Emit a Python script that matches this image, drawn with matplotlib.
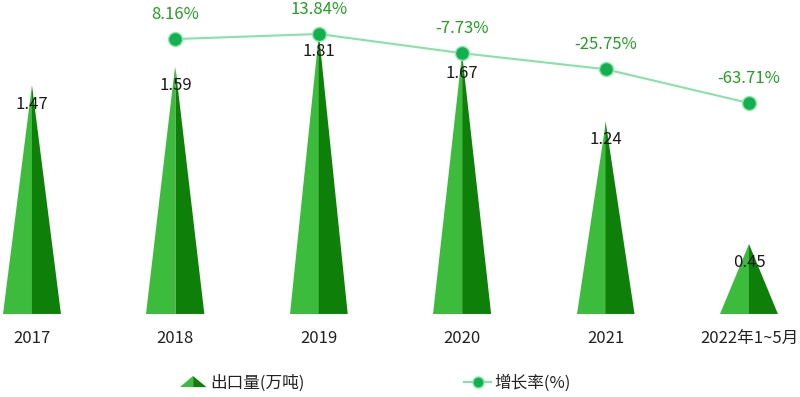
import matplotlib.pyplot as plt
import numpy as np
from matplotlib.patches import Polygon, Patch
from matplotlib.lines import Line2D

plt.rcParams['font.family'] = ['Noto Sans CJK SC', 'DejaVu Sans']

years = ['2017', '2018', '2019', '2020', '2021', '2022年1~5月']
export = [1.47, 1.59, 1.81, 1.67, 1.24, 0.45]
growth_years = [1, 2, 3, 4, 5]
growth = [8.16, 13.84, -7.73, -25.75, -63.71]

light = '#3dbb3d'
dark = '#0e8009'


class TriHandler:
    # two-tone triangle for the legend
    def legend_artist(self, legend, orig_handle, fontsize, handlebox):
        x0, y0 = handlebox.xdescent, handlebox.ydescent
        w, h = handlebox.width, handlebox.height
        cx = x0 + w / 2
        top = y0 + h * 1.0
        bot = y0 + h * 0.05
        p1 = Polygon([(x0, bot), (cx, bot), (cx, top)], fc=light, ec='none',
                     transform=handlebox.get_transform())
        p2 = Polygon([(cx, bot), (x0 + w, bot), (cx, top)], fc=dark, ec='none',
                     transform=handlebox.get_transform())
        handlebox.add_artist(p1)
        handlebox.add_artist(p2)
        return p1


fig = plt.figure(figsize=(8, 3.97), dpi=100)
ax = fig.add_axes([0, 0, 1, 1])
ax.set_xlim(-0.223, 5.356)
ax.set_ylim(-0.534, 2.019)
ax.axis('off')

hw = 0.202
for i, v in enumerate(export):
    ax.add_patch(Polygon([(i - hw, 0), (i, 0), (i, v)], closed=True, fc=light, ec='none'))
    ax.add_patch(Polygon([(i, 0), (i + hw, 0), (i, v)], closed=True, fc=dark, ec='none'))
    ax.annotate(f'{v:.2f}', (i, v), xytext=(0, -13.5), textcoords='offset points',
                ha='center', va='center', fontsize=12, color='#1a1a1a')
    ax.annotate(years[i], (i, 0), xytext=(0, -17.5), textcoords='offset points',
                ha='center', va='center', fontsize=12, color='#222222')

ax2 = ax.twinx()
ax2.set_position([0, 0, 1, 1])
ax2.set_ylim(-394.0, 52.04)
ax2.axis('off')
ax2.plot(growth_years, growth, color='#86e3a6', lw=1.5, zorder=2)
ax2.plot(growth_years, growth, 'o', ms=10, color='#12b04e', mec='#8fe6ad', mew=1, zorder=3)
for x, g in zip(growth_years, growth):
    ax2.annotate(f'{g:.2f}%', (x, g), xytext=(0, 18), textcoords='offset points',
                 ha='center', va='center', fontsize=12, color='#22a022')

tri_h = Patch(fc=light)
line_h = Line2D([], [], color='#86e3a6', lw=1.5, marker='o', ms=8, mfc='#12b04e', mec='#8fe6ad')
fig.legend([tri_h, line_h], ['出口量(万吨)', '增长率(%)'],
           handler_map={Patch: TriHandler()},
           loc='center left', bbox_to_anchor=(0.206, 1 - 383 / 397), ncol=2,
           frameon=False, fontsize=12, handlelength=1.6, handletextpad=0.2,
           columnspacing=9.6, labelcolor='#222222')

fig.savefig('out.png', dpi=100)
